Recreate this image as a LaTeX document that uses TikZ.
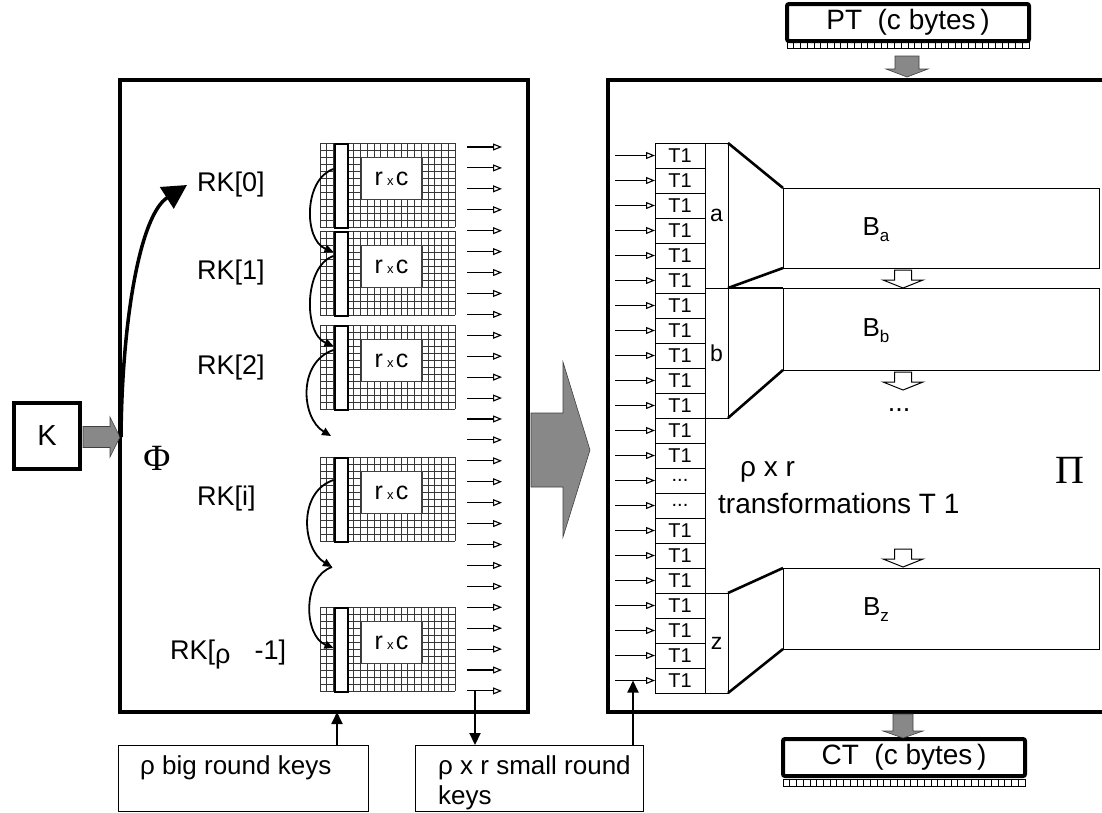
\documentclass[tikz,border=0pt]{standalone}
\usepackage{fontspec}
\setmainfont{Liberation Sans}
\newfontfamily\serifgr{Liberation Serif}
\usetikzlibrary{arrows.meta,calc}
\definecolor{stipple}{RGB}{136,136,136}
\definecolor{gridgray}{RGB}{55,55,55}
\newcommand\myfs[1]{\fontsize{#1}{#1}\selectfont}
\newcommand\tdots{...}
\begin{document}
\begin{tikzpicture}[x=1pt,y=-1pt,font=\myfs{27},
  bigbox/.style={draw,line width=4pt,inner sep=0pt,outer sep=0pt,anchor=north west},
  gridln/.style={draw=gridgray,line width=0.55pt},
  barnode/.style={draw,line width=2.2pt,fill=white,inner sep=0pt,minimum width=13.5pt,minimum height=84pt,anchor=north west},
  rcnode/.style={draw=black!75,line width=1.3pt,fill=white,inner sep=0pt,minimum width=60.75pt,minimum height=42pt,anchor=north west},
  keyarr/.style={line width=1.1pt,-{Triangle[open,length=9pt,width=7pt]}},
  hop/.style={line width=1.8pt,-{Triangle[length=9pt,width=8pt]}},
  grayarr/.style={fill=stipple,draw=black!75,line width=0.6pt},
  tcell/.style={draw,line width=0.9pt,minimum width=50pt,minimum height=25pt,inner sep=0pt,outer sep=0pt,anchor=north west,font=\myfs{20}},
  grp/.style={draw,line width=0.9pt,minimum width=23pt,inner sep=0pt,outer sep=0pt,anchor=north west,font=\myfs{23}},
  bbox/.style={draw,line width=1pt,minimum width=316pt,minimum height=80pt,inner sep=0pt,outer sep=0pt,anchor=north west},
  slant/.style={line width=2.6pt},
  hollowarr/.style={draw,fill=white,line width=1pt},
  iobox/.style={draw,line width=4pt,rounded corners=2pt,minimum width=242pt,minimum height=37pt,inner sep=0pt,outer sep=0pt,anchor=north west,font=\myfs{28}},
  tickbox/.style={draw,line width=0.7pt},
  keybox/.style={draw,line width=1pt,minimum height=66pt,inner sep=0pt,outer sep=0pt,anchor=north west},
  uparr/.style={line width=2pt,-{Triangle[length=12pt,width=11pt]}},
  lbl/.style={inner sep=0pt,anchor=west}]
\useasboundingbox (0,0) rectangle (1102,812);

% ---- big boxes
\node[bigbox,minimum width=408pt,minimum height=632pt] (Phi) at (120,80) {};
\node[bigbox,minimum width=510pt,minimum height=632pt] (Pi) at (608,80) {};

% ---- PT / CT
\node[iobox] (PT) at (787,4) {PT\ \ (c bytes\,)};
\foreach \i in {0,...,35}{\draw[tickbox] ({787+\i*6.72},42) rectangle ++(6.72,6.5);}
\draw[grayarr] (895,56) -- (919,56) -- (919,69) -- (928,69) -- (907,77) -- (886,69) -- (895,69) -- cycle;
\node[iobox] (CT) at (783,739) {CT\ \ (c bytes\,)};
\foreach \i in {0,...,35}{\draw[tickbox] ({783+\i*6.72},779) rectangle ++(6.72,7);}
\draw[grayarr] (893,714) -- (913,714) -- (913,731) -- (923,731) -- (903,738) -- (883,731) -- (893,731) -- cycle;

% ---- K
\node[draw,line width=4pt,minimum width=66pt,minimum height=66pt,inner sep=0pt,font=\myfs{29}] (K) at (47,436) {K};
\draw[grayarr] (83,426.5) -- (110,426.5) -- (110,417) -- (120,437) -- (110,457) -- (110,447.5) -- (83,447.5) -- cycle;

% ---- big arrow between boxes
\draw[grayarr] (531,413) -- (563,413) -- (563,362) -- (590,450) -- (563,537) -- (563,487) -- (531,487) -- cycle;

% ---- grid blocks
\foreach \by/\nm in {143/1,231/2,325/3,457/4,607/5}{
  \foreach \i in {0,...,20}{\draw[gridln] ({320+\i*6.75},\by) -- ++(0,84);}
  \foreach \j in {0,...,12}{\draw[gridln] (320,{\by+\j*7}) -- ++(135,0);}
  \node[barnode] (bar\nm) at (333.5,\by) {};
  \node[rcnode] (rc\nm) at (360.5,{\by+14}) {\myfs{25}r\,\myfs{13}x\,\myfs{25}c};
}

% ---- RK labels
\node[lbl] (rk0) at (197,185) {RK[0]};
\node[lbl] (rk1) at (197,273) {RK[1]};
\node[lbl] (rk2) at (197,368) {RK[2]};
\node[lbl] (rki) at (197,499) {RK[i]};
\node[lbl] (rkl) at (170,655) {RK[\raisebox{-4pt}{ρ}\hspace{24pt}-1]};

% ---- curves
\coordinate (gapA) at (331,436);
\coordinate (gapB) at (332,567);
\draw[hop] ($(bar1.north west)+(0,26)$) .. controls +(-30,10) and +(-30,-12) .. ($(bar2.north west)+(0,21)$);
\draw[hop] ($(bar2.north west)+(0,25)$) .. controls +(-30,10) and +(-30,-12) .. ($(bar3.north west)+(0,21)$);
\draw[hop] ($(bar3.north west)+(0,25)$) .. controls +(-36,12) and +(-30,-18) .. (gapA);
\draw[hop] ($(bar4.north west)+(0,23)$) .. controls +(-36,12) and +(-30,-18) .. (gapB);
\draw[hop] (gapB) .. controls +(-30,10) and +(-30,-12) .. ($(bar5.north west)+(0,41)$);

\coordinate (kin) at (121,437);
\draw[line width=3.5pt,-{Triangle[length=24pt,width=25pt]}] (kin) .. controls (122,320) and (140,215) .. ($(rk0.west)+(-10,0)$);

% ---- Phi label and key arrows
\node[font=\serifgr\myfs{37}] (phil) at (157,458) {Φ};
\foreach \k in {0,...,26}{\draw[keyarr] (467,{147+20.92*\k}) -- (502,{147+20.92*\k});}

% ---- key boxes
\node[keybox,minimum width=250pt] (bigkeys) at (118,745) {};
\node[lbl,font=\myfs{26}] (bigkeystxt) at (140,768) {ρ big round keys};
\node[keybox,minimum width=228pt] (smallkeys) at (415,745) {};
\node[lbl,font=\myfs{26}] (sk1) at (438,768) {ρ x r small round};
\node[lbl,font=\myfs{26}] (sk2) at (438,798) {keys};

\coordinate (lastk) at (475,690.9);
\draw[uparr] (lastk) -- ($(smallkeys.north west)+(60,0)$);
\draw[uparr] ($(bigkeys.north west)+(219,0)$) -- ($(Phi.south west)+(217,0)$);

% ---- T1 column
\foreach \k/\t in {0/T1,1/T1,2/T1,3/T1,4/T1,5/T1,6/T1,7/T1,8/T1,9/T1,10/T1,11/T1,12/T1,13/\tdots,14/\tdots,15/T1,16/T1,17/T1,18/T1,19/T1,20/T1,21/T1}{
  \node[tcell] (t\k) at (655,{143+25*\k}) {\t};
  \draw[keyarr] ($(t\k.west)+(-40,0)$) -- (t\k.west);
}
\draw[uparr] ($(smallkeys.north west)+(218,0)$) -- ($(t21.west)+(-22,0)$);

% ---- groups and blocks
\node[grp,minimum height=145pt] (Ga) at (705,143) {a};
\node[grp,minimum height=130pt] (Gb) at (705,288) {b};
\node[grp,minimum height=100pt] (Gz) at (705,593) {z};
\node[bbox] (Ba) at (783,188) {};
\node[bbox,minimum height=82pt] (Bb) at (783,288) {};
\node[bbox,minimum height=81pt] (Bz) at (783,568) {};
\draw[slant] (Ga.north east) -- (Ba.north west);
\draw[slant] (Ga.south east) -- (Ba.south west);
\draw[slant] (Gb.north east) -- (Bb.north west);
\draw[slant] (Gb.south east) -- (Bb.south west);
\draw[slant] (Gz.north east) -- (Bz.north west);
\draw[slant] (Gz.south east) -- (Bz.south west);
\node (Bal) at (876,230) {\myfs{26}B\raisebox{-6pt}{\myfs{17}a}};
\node (Bbl) at (876,331) {\myfs{26}B\raisebox{-6pt}{\myfs{17}b}};
\node (Bzl) at (876,610) {\myfs{26}B\raisebox{-6pt}{\myfs{17}z}};

\foreach \ty in {270,372,549}{
  \draw[hollowarr] (894.5,\ty) -- (911.5,\ty) -- (911.5,{\ty+10}) -- (923,{\ty+10}) -- (903,{\ty+18}) -- (883,{\ty+10}) -- (894.5,{\ty+10}) -- cycle;
}
\node (pidots) at (899,410) {...};
\node[lbl,font=\myfs{28}] (rhoxr) at (740,472) {ρ x r};
\node[lbl,font=\myfs{28}] (trans) at (718,503) {transformations T 1};
\node[font=\serifgr\myfs{40}] (pil) at (1070,470) {Π};
\end{tikzpicture}
\end{document}
